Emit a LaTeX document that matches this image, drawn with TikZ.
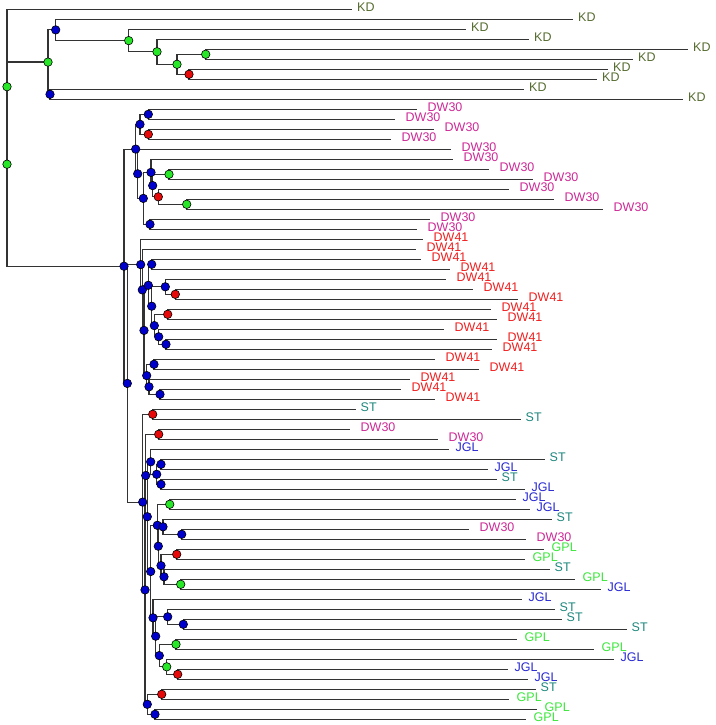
\documentclass[tikz,border=0pt]{standalone}
\usepackage{fontspec}
\setmainfont{Liberation Sans}
\usepackage{tikz}
\usetikzlibrary{calc}
\definecolor{treeKD}   {RGB}{85,  107,  47}
\definecolor{treeDWa}  {RGB}{205,  40, 150}
\definecolor{treeDWb}  {RGB}{240,  30,  30}
\definecolor{treeST}   {RGB}{30,  135, 125}
\definecolor{treeJGL}  {RGB}{40,   40, 210}
\definecolor{treeGPL}  {RGB}{60,  230,  60}
\definecolor{dotBlue}  {RGB}{0,    0, 205}
\definecolor{dotGreen} {RGB}{40,  230,  40}
\definecolor{dotRed}   {RGB}{230,  10,  10}
\tikzset{
  branch/.style={draw=black!80,line width=1.2pt},
  tip/.style={circle,draw=black,line width=0.6pt,inner sep=0pt,minimum size=8.5pt},
  tag/.style={anchor=west,inner sep=0pt,yshift=2pt,font=\fontsize{12.5}{14}\selectfont}
}
\begin{document}
\begin{tikzpicture}[x=1pt,y=-1pt]
        \useasboundingbox (0,0) rectangle (715,725);
        % Inner nodes (name/x/y)
        \foreach \n/\x/\y in {
          P/7/86.7, Q/7/164.2, k1/48/62.1, k2/55.7/29.9, k3/128.7/40.6,
          k4/157/51.8, k5/177/64.3, k6/205.7/54.3, k7/189/74.3, k8/50/94.3,
          R/124/266.2, s/135.7/149.1, a1/140/124.3, a2/148.3/114.3,
          a3/148.3/134.3, u/137.7/173.8, v/143.3/198.4, w/151/172.4,
          y1/152.7/185.6, z/169/174.3, aa/158.3/196.8, ab/186.7/204.3,
          x1/150/224.3,
          T/127.3/383.4, n1/140.7/264.6, n2/142.3/289.9, n3/144/330.4,
          n4/148.3/285.3, n5/146.7/375.6, n6/151.7/264.3, n7/151.7/306.2,
          n8/165.3/286.8, n9/154.3/325.6, n10/175.3/294.3, n11/167.7/314.3,
          n12/158.7/336.8, n13/166/344.3, n14/154/364.3, n15/149/386.8,
          n16/160/394.3,
          B/142.7/502.1, b1/152.7/414.3, e1/145/589.9, e2/145.7/475.5,
          b2/158.7/434.3, b3/147.3/516.7, b4/150.7/461.8, b5/156.7/474.3,
          b6/161/464.3, b7/161/484.3, c0/150.7/571.5, c1/157.3/525.3,
          g1/169.7/504.3, c4/158.3/546.2, c2/163/526.8, c3/181.7/534.3,
          c5/161/565.6, r1/176.7/554.3, c6/164/576.8, g2/180.7/584.3,
          d1/153/617.8, d4/155.7/636.2, d2/167.7/616.8, d3/183.3/624.3,
          d5/159.3/655.6, g3/176/644.3, g4/166.7/666.8, r2/177.7/674.3,
          f1/147.3/704.3, r3/161.7/694.3, f2/155/714.3}{
          \coordinate (\n) at (\x,\y);
        }
        % Leaf ends (index/x), one row every 10pt
        \foreach \i/\x in {
          1/352, 2/573, 3/466, 4/529, 5/688, 6/633, 7/608, 8/597, 9/524, 10/683,
          11/417, 12/395, 13/434, 14/391, 15/451, 16/453, 17/489, 18/533,
          19/509, 20/554, 21/603, 22/430, 23/417,
          24/423, 25/416, 26/421, 27/450, 28/446, 29/473, 30/518, 31/491,
          32/497, 33/444, 34/497, 35/492, 36/435, 37/479, 38/410, 39/401,
          40/435,
          41/356, 42/521, 43/350, 44/438, 45/449, 46/545, 47/488, 48/497,
          49/525, 50/516, 51/530, 52/552, 53/469, 54/526, 55/544, 56/525,
          57/550, 58/575, 59/601, 60/522, 61/555, 62/562, 63/627, 64/517,
          65/594, 66/614, 67/508, 68/528, 69/536, 70/509, 71/537, 72/526}{
          \coordinate (l\i) at (\x,{10*\i-0.7});
        }

        % Branches
        \foreach \a/\b in {
          P/l1, P/Q, Q/k1, Q/R, k1/k2, k1/k8, k2/l2, k2/k3, k3/l3, k3/k4,
          k4/l4, k4/k5, k5/k6, k5/k7, k6/l5, k6/l6, k7/l7, k7/l8, k8/l9, k8/l10,
          R/s, R/T, s/a1, s/u, a1/a2, a1/a3, a2/l11, a2/l12, a3/l13, a3/l14,
          u/l15, u/v, v/w, v/x1, w/l16, w/y1, y1/z, y1/aa, z/l17, z/l18,
          aa/l19, aa/ab, ab/l20, ab/l21, x1/l22, x1/l23,
          T/n1, T/B, n1/l24, n1/n2, n2/l25, n2/n3, n3/n4, n3/n5, n4/n6, n4/n7,
          n6/l26, n6/l27, n7/n8, n7/n9, n8/l28, n8/n10, n10/l29, n10/l30,
          n9/n11, n9/n12, n11/l31, n11/l32, n12/l33, n12/n13, n13/l34, n13/l35,
          n5/n14, n5/n15, n14/l36, n14/l37, n15/l38, n15/n16, n16/l39, n16/l40,
          B/b1, B/e1, b1/l41, b1/l42, e1/e2, e1/f1, e2/b2, e2/b3, b2/l43, b2/l44,
          b3/b4, b3/c0, b4/l45, b4/b5, b5/b6, b5/b7, b6/l46, b6/l47, b7/l48,
          b7/l49, c0/c1, c0/d1, c1/g1, c1/c4, g1/l50, g1/l51, c4/c2, c4/c5,
          c2/l52, c2/c3, c3/l53, c3/l54, c5/r1, c5/c6, r1/l55, r1/l56, c6/l57,
          c6/g2, g2/l58, g2/l59, d1/l60, d1/d4, d4/d2, d4/d5, d2/l61, d2/d3,
          d3/l62, d3/l63, d5/g3, d5/g4, g3/l64, g3/l65, g4/l66, g4/r2, r2/l67,
          r2/l68, f1/r3, f1/f2, r3/l69, r3/l70, f2/l71, f2/l72}{
          \draw[branch] (\a) |- (\b);
        }

        % Node markers
        \foreach \n in {P,Q,k1,k3,k4,k5,k6,z,ab,g1,g2,g3,g4}
          \node[tip,fill=dotGreen] (m\n) at (\n) {};
        \foreach \n in {k7,a3,aa,n10,n11,b1,b2,r1,r2,r3}
          \node[tip,fill=dotRed] (m\n) at (\n) {};
        \foreach \n in {k2,k8,R,s,a1,a2,u,v,w,y1,x1,T,n1,n2,n3,n4,n5,n6,n7,n8,
          n9,n12,n13,n14,n15,n16,B,e1,e2,b3,b4,b5,b6,b7,c0,c1,c2,c3,c4,c5,c6,
          d1,d2,d3,d4,d5,f1,f2}
          \node[tip,fill=dotBlue] (m\n) at (\n) {};

        % Leaf labels
        \foreach \i in {1,...,10}
          \node[tag,text=treeKD,xshift=5pt] (t\i) at (l\i) {KD};
        \foreach \i in {11,...,23,43,44,53,54}
          \node[tag,text=treeDWa,xshift=10.5pt] (t\i) at (l\i) {DW30};
        \foreach \i in {24,...,40}
          \node[tag,text=treeDWb,xshift=10.5pt] (t\i) at (l\i) {DW41};
        \foreach \i in {41,42,46,48,52,57,61,62,63,69}
          \node[tag,text=treeST,xshift=4.5pt] (t\i) at (l\i) {ST};
        \foreach \i in {45,47,49,50,51,59,60,66,67,68}
          \node[tag,text=treeJGL,xshift=6.5pt] (t\i) at (l\i) {JGL};
        \foreach \i in {55,56,58,64,65,70,71,72}
          \node[tag,text=treeGPL,xshift=7.5pt] (t\i) at (l\i) {GPL};
\end{tikzpicture}
\end{document}
